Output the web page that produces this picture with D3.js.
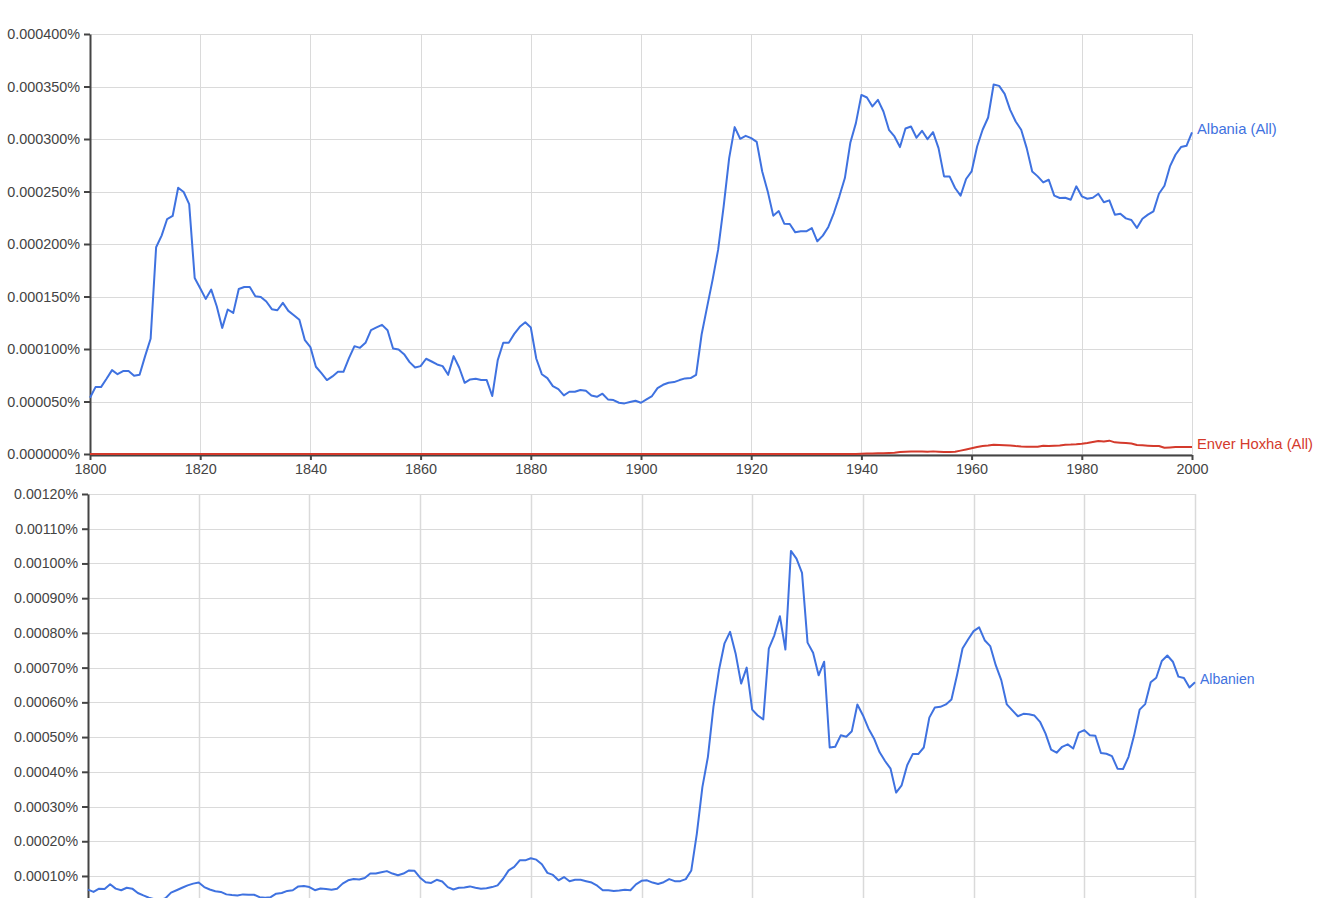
<!DOCTYPE html>
<html>
<head>
<meta charset="utf-8">
<script src="https://cdn.jsdelivr.net/npm/d3@7"></script>
<style>
  body { margin: 0; background: #fff; }
  svg { display: block; font-family: "Liberation Sans", Arial, sans-serif; }
</style>
</head>
<body>
<div id="chart"></div>
<script>
// years shown on both charts
const years = d3.range(1800, 2001);
const xTicks = [1800, 1820, 1840, 1860, 1880, 1900, 1920, 1940, 1960, 1980, 2000];

// top chart, values in millionths of a percent
const albania = [
  53.6, 63.7, 63.7, 71.6, 79.9, 76, 79, 79, 74.5, 75.4,
  93.2, 109.7, 196.9, 208, 223.8, 226.7, 253.6, 249.5, 238, 167.7,
  157.9, 147.7, 156.6, 140.7, 120.1, 137.6, 134.4, 157.2, 159.1, 159.1,
  150.3, 149.6, 145.2, 137.9, 136.9, 143.9, 136.3, 132.2, 127.8, 108.4,
  101.8, 83.1, 77, 70.4, 73.9, 78.3, 78.3, 91.3, 102.7, 101.1,
  105.9, 117.9, 120.5, 123, 117.9, 100.5, 99.5, 95.1, 87.5, 82.4,
  83.7, 90.7, 88.1, 85.3, 83.7, 75.4, 93.2, 82.4, 67.8, 71,
  71.6, 70.4, 70.4, 55.2, 89.4, 105.9, 105.9, 114.4, 121.1, 125.5,
  120.5, 90.7, 76, 72.3, 64.7, 61.8, 55.8, 59.3, 59.3, 60.9,
  60.2, 55.8, 54.5, 57.4, 52, 51.4, 48.8, 48.2, 49.5, 50.7,
  48.8, 52, 55.2, 62.8, 65.9, 67.8, 68.5, 70.4, 72, 72.3,
  75.4, 113.8, 140.1, 166.1, 194.6, 235.8, 281.8, 311.3, 300.2, 303,
  300.8, 297.3, 269.1, 250.1, 227, 231.4, 219.4, 219, 211.1, 212.1,
  212.1, 215.2, 202.6, 208, 216.2, 229.5, 245.4, 262.8, 296.7, 315.1,
  342, 339.5, 331, 337.3, 326.2, 308.8, 302.4, 292.3, 310, 311.9,
  301.2, 307.8, 299.9, 306.5, 291.3, 264.4, 264.4, 253.3, 246, 261.9,
  269.1, 292.9, 308.8, 320.5, 351.9, 350.6, 343, 327.8, 316.7, 308.8,
  291.3, 269.1, 264.4, 258.7, 261.2, 246, 243.8, 244.1, 242.2, 254.9,
  245.4, 243.1, 244.1, 247.9, 239.7, 241.6, 227.9, 228.9, 224.4, 222.9,
  215.3, 224.1, 228, 231.1, 247.9, 255.5, 273.9, 285, 292.3, 293.5,
  306.2
];

const enverHoxha = [
  0, 0, 0, 0, 0, 0, 0, 0, 0, 0,
  0, 0, 0, 0, 0, 0, 0, 0, 0, 0,
  0, 0, 0, 0, 0, 0, 0, 0, 0, 0,
  0, 0, 0, 0, 0, 0, 0, 0, 0, 0,
  0, 0, 0, 0, 0, 0, 0, 0, 0, 0,
  0, 0, 0, 0, 0, 0, 0, 0, 0, 0,
  0, 0, 0, 0, 0, 0, 0, 0, 0, 0,
  0, 0, 0, 0, 0, 0, 0, 0, 0, 0,
  0, 0, 0, 0, 0, 0, 0, 0, 0, 0,
  0, 0, 0, 0, 0, 0, 0, 0, 0, 0,
  0, 0, 0, 0, 0, 0, 0, 0, 0, 0,
  0, 0, 0, 0, 0, 0, 0, 0, 0, 0,
  0, 0, 0, 0, 0, 0, 0, 0, 0, 0,
  0, 0, 0, 0, 0, 0, 0, 0, 0, 0,
  0.3, 0.4, 0.5, 0.6, 0.8, 1.0, 1.3, 1.8, 2.2, 2.4,
  2.5, 2.4, 2.2, 2.5, 2.2, 1.9, 2.0, 2.2, 3.2, 4.3,
  5.4, 6.6, 7.6, 8.0, 8.9, 8.6, 8.4, 8.2, 7.6, 7.2,
  7.0, 6.9, 7.0, 7.9, 7.6, 7.9, 8.2, 8.9, 9.0, 9.3,
  9.8, 10.5, 11.4, 12.4, 12.0, 12.7, 11.1, 10.8, 10.5, 10.0,
  8.6, 8.3, 7.9, 7.6, 7.6, 6.0, 6.3, 6.7, 6.7, 6.6,
  6.7
];

// bottom chart, values in hundred-thousandths of a percent
const albanien = [
  6.06, 5.4, 6.35, 6.25, 7.6, 6.35, 5.9, 6.6, 6.35, 5.1,
  4.4, 3.75, 3.3, 3.0, 3.6, 5.2, 5.9, 6.6, 7.3, 7.8,
  8.1, 6.8, 6.1, 5.6, 5.4, 4.7, 4.5, 4.4, 4.7, 4.6,
  4.6, 3.9, 3.75, 3.9, 4.9, 5.1, 5.7, 5.9, 7, 7.1,
  6.8, 5.9, 6.4, 6.25, 6.06, 6.35, 7.8, 8.75, 9.1, 9.0,
  9.4, 10.7, 10.7, 11.05, 11.4, 10.7, 10.2, 10.7, 11.6, 11.5,
  9.5, 8.2, 8.0, 8.9, 8.4, 6.8, 6.1, 6.6, 6.7, 7.0,
  6.6, 6.35, 6.45, 6.8, 7.3, 9.2, 11.6, 12.6, 14.5, 14.5,
  15.1, 14.7, 13.4, 10.9, 10.3, 8.75, 9.7, 8.5, 8.9, 8.9,
  8.5, 8.1, 7.2, 5.9, 5.9, 5.7, 5.8, 6.06, 5.9, 7.6,
  8.6, 8.75, 8.1, 7.7, 8.2, 9.1, 8.5, 8.5, 9.1, 11.6,
  22.2, 35.6, 44.3, 58.7, 69.3, 77.0, 80.3, 74.1, 65.4, 70,
  57.9, 56.2, 55.1, 75.5, 79.3, 84.8, 75.2, 103.6, 101.4, 97.3,
  77.2, 74.3, 67.8, 71.7, 47.0, 47.2, 50.5, 50.1, 51.7, 59.4,
  56.3, 52.5, 49.6, 45.7, 43.1, 40.9, 34, 36.1, 41.9, 45.1,
  45.1, 47.0, 55.6, 58.5, 58.7, 59.4, 60.8, 67.8, 75.5, 78.1,
  80.5, 81.6, 77.9, 76.2, 70.7, 66.4, 59.4, 57.7, 56, 56.7,
  56.6, 56.2, 54.4, 51, 46.4, 45.5, 47.2, 47.9, 46.7, 51.3,
  52, 50.5, 50.4, 45.4, 45.2, 44.5, 40.9, 40.8, 44.3, 50.5,
  57.9, 59.5, 65.8, 67.1, 71.9, 73.5, 71.7, 67.4, 67, 64.3,
  65.8
];

const topTicks = [0, 50, 100, 150, 200, 250, 300, 350, 400];
// the bottom chart runs past the window, so its zero line is not shown
const bottomTicks = [10, 20, 30, 40, 50, 60, 70, 80, 90, 100, 110, 120];

class NgramChart {
    constructor(config, series) {
        this.config = config;
        this.series = series;
        this.init();
    }

    init() {
        let self = this;
        const c = self.config;

        self.chart = c.svg.append('g')
            .attr('transform', `translate(${c.left}, ${c.top})`);

        self.xscale = d3.scaleLinear()
            .domain([1800, 2000])
            .range([0, c.width]);

        self.yscale = d3.scaleLinear()
            .domain([0, c.yMax])
            .range([c.height, 0]);
    }

    render() {
        let self = this;
        const c = self.config;

        // grid
        const grid = self.chart.append('g');
        grid.selectAll('line.h')
            .data(c.yTicks)
            .join('line')
            .attr('x1', 0)
            .attr('x2', c.width)
            .attr('y1', d => Math.round(self.yscale(d)) + 0.5)
            .attr('y2', d => Math.round(self.yscale(d)) + 0.5)
            .attr('stroke', '#dadada');
        grid.selectAll('line.v')
            .data(xTicks.slice(1))
            .join('line')
            .attr('x1', d => Math.round(self.xscale(d)) + 0.5)
            .attr('x2', d => Math.round(self.xscale(d)) + 0.5)
            .attr('y1', 0)
            .attr('y2', c.height)
            .attr('stroke', '#dadada')
            .attr('stroke-width', c.vGridWidth);

        // axes
        const yaxis = d3.axisLeft(self.yscale)
            .tickValues(c.yTicks)
            .tickSize(6)
            .tickSizeOuter(0)
            .tickPadding(4)
            .tickFormat(c.format);
        const yg = self.chart.append('g').call(yaxis);
        yg.select('.domain').attr('stroke', '#444').attr('stroke-width', 2);
        yg.selectAll('.tick line').attr('stroke', '#444').attr('stroke-width', 2);
        yg.selectAll('.tick text')
            .attr('fill', '#444')
            .style('font-size', c.yFont + 'px')
            .style('font-family', '"Liberation Sans", Arial, sans-serif');

        if (c.showXAxis) {
            const xaxis = d3.axisBottom(self.xscale)
                .tickValues(xTicks)
                .tickSize(5)
                .tickSizeOuter(0)
                .tickPadding(4)
                .tickFormat(d3.format('d'));
            const xg = self.chart.append('g')
                .attr('transform', `translate(0, ${c.height + 1})`)
                .call(xaxis);
            xg.select('.domain').attr('stroke', '#444').attr('stroke-width', 2);
            xg.selectAll('.tick line').attr('stroke', '#444').attr('stroke-width', 2);
            xg.selectAll('.tick text')
                .attr('fill', '#444')
                .style('font-size', '14.4px')
                .style('font-family', '"Liberation Sans", Arial, sans-serif');
        }

        // lines
        const line = d3.line()
            .x((d, i) => self.xscale(years[i]))
            .y(d => self.yscale(d));

        self.series.forEach(s => {
            self.chart.append('path')
                .datum(s.values)
                .attr('fill', 'none')
                .attr('stroke', s.color)
                .attr('stroke-width', 2)
                .attr('stroke-linejoin', 'round')
                .attr('d', line);

            const last = s.values[s.values.length - 1];
            self.chart.append('text')
                .attr('x', self.xscale(2000) + 5)
                .attr('y', self.yscale(last))
                .attr('dy', '0.12em')
                .attr('fill', s.color)
                .style('font-size', c.labelFont + 'px')
                .text(s.name);
        });
    }
}

const svg = d3.select('#chart').append('svg')
    .attr('width', 1319)
    .attr('height', 898);

const blue = '#3f72e0';
const red = '#d43a2c';

const topChart = new NgramChart({
    svg: svg, left: 90, top: 34, width: 1102, height: 420,
    yMax: 400, yTicks: topTicks, vGridWidth: 1, showXAxis: true,
    format: d => (d / 1e6).toFixed(6) + '%',
    yFont: 14.4, labelFont: 14.8
}, [
    { name: 'Albania (All)', values: albania, color: blue },
    { name: 'Enver Hoxha (All)', values: enverHoxha, color: red }
]);
topChart.render();

const bottomChart = new NgramChart({
    svg: svg, left: 88, top: 494, width: 1107, height: 416.7,
    yMax: 120, yTicks: bottomTicks, vGridWidth: 1.5, showXAxis: false,
    format: d => (d / 1e5).toFixed(5) + '%',
    yFont: 14.2, labelFont: 14
}, [
    { name: 'Albanien', values: albanien, color: blue }
]);
bottomChart.render();
</script>
</body>
</html>
